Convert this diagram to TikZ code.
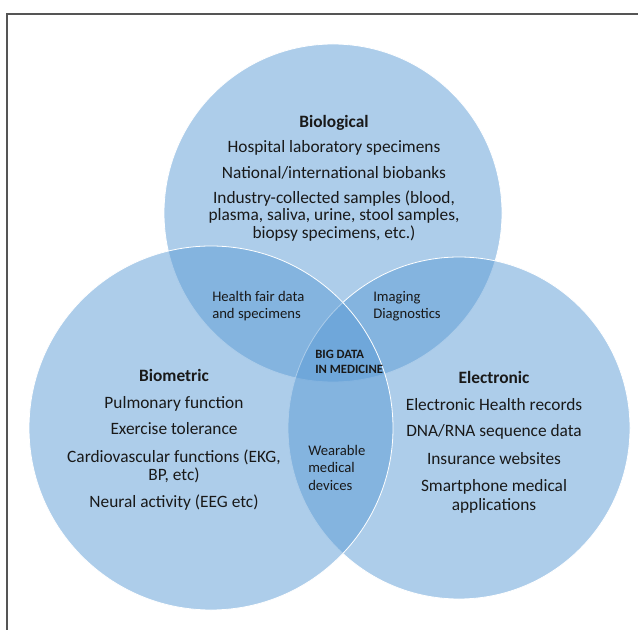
\documentclass[tikz,border=0pt]{standalone}
\usepackage{fontspec}
\setmainfont{Carlito}
\usepackage{tikz}
\usetikzlibrary{positioning}
\definecolor{vennblue}{RGB}{91,155,213}
\definecolor{framegray}{RGB}{85,85,85}
\tikzset{
    venn/.style={
        fill=vennblue,
        fill opacity=0.5,
        draw=white,
        line width=0.6pt
    },
    % text of the three big circles
    bigtext/.style={
        align=center,
        inner sep=0pt,
        anchor=north,
        text=black!90,
        font=\fontsize{13}{13.5}\selectfont
    },
    smalltext/.style={
        align=left,
        inner sep=0pt,
        anchor=north west,
        text=black!90,
        font=\fontsize{11}{12.8}\selectfont
    }
}

\begin{document}
\begin{tikzpicture}[x=0.75pt,y=0.75pt]
   \useasboundingbox (0,0) rectangle (638,629);
   \draw[framegray, line width=0.8pt] (7,-20) |- (660,615);
   % circles: top, right, left
   \fill[venn] (333,416) circle (169);
   \filldraw[venn] (459,201) circle (171);
   \filldraw[venn] (211,201) circle (182);
   \node[bigtext, font=\fontsize{13}{13}\selectfont] (biol) at (334,514) {\textbf{Biological}\\[6pt]
        Hospital laboratory specimens\\[6pt]
        National/international biobanks\\[6pt]
        Industry-collected samples (blood,\\
        plasma, saliva, urine, stool samples,\\
        biopsy specimens, etc.)};
   \node[bigtext] (biom) at (174,260) {\textbf{Biometric}\\[7pt]
        Pulmonary function\\[6pt]
        Exercise tolerance\\[7pt]
        Cardiovascular functions (EKG,\\
        BP, etc)\\[7pt]
        Neural activity (EEG etc)};
   \node[bigtext, font=\fontsize{13}{14}\selectfont] (elec) at (494,258) {\textbf{Electronic}\\[6pt]
        Electronic Health records\\[6pt]
        DNA/RNA sequence data\\[7pt]
        Insurance websites\\[6pt]
        Smartphone medical\\
        applications};
   \node[smalltext] (fair) at (212,338) {Health fair data\\and specimens};
   \node[smalltext] (imag) at (373,338) {Imaging\\Diagnostics};
   \node[smalltext, font=\fontsize{11}{13}\selectfont] (wear) at (308,184) {Wearable\\medical\\devices};
   \node[smalltext, font=\bfseries\fontsize{9.5}{11.2}\selectfont] (bigd) at (315,279) {BIG DATA\\IN MEDICINE};
\end{tikzpicture}
\end{document}
